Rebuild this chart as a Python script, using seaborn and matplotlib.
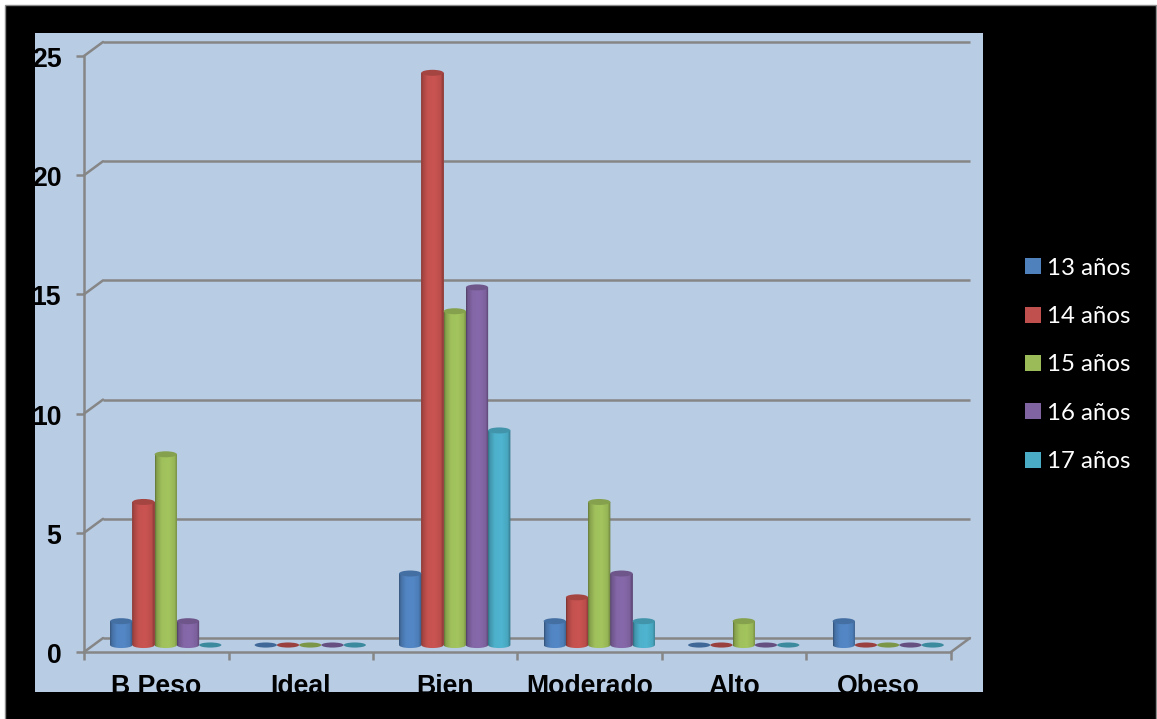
import numpy as np
import pandas as pd
import matplotlib
matplotlib.use("Agg")
import matplotlib.pyplot as plt
from matplotlib.patches import Ellipse, Patch, PathPatch, Rectangle
from matplotlib.path import Path
from matplotlib.colors import to_rgb
import seaborn as sns

categories = ["B Peso", "Ideal", "Bien", "Moderado", "Alto", "Obeso"]
age_groups = ["13 años", "14 años", "15 años", "16 años", "17 años"]
age_13 = [1, 0, 3, 1, 0, 1]
age_14 = [6, 0, 24, 2, 0, 0]
age_15 = [8, 0, 14, 6, 1, 0]
age_16 = [1, 0, 15, 3, 0, 0]
age_17 = [0, 0, 9, 1, 0, 0]
colors = ["#4F81BD", "#C0504D", "#9BBB59", "#8064A2", "#4BACC6"]
y_ticks = [0, 5, 10, 15, 20, 25]

PANEL = "#B8CCE4"
FRAME = "#868686"

sns.set_style("white")
plt.rcParams["font.family"] = ["Liberation Sans", "DejaVu Sans"]

records = []
for age, series in zip(age_groups, [age_13, age_14, age_15, age_16, age_17]):
    for cat, val in zip(categories, series):
        records.append({"categoria": cat, "edad": age, "valor": val})
df = pd.DataFrame(records)

fig = plt.figure(figsize=(11.57, 7.19), dpi=100, facecolor="white")
W, H = 1157, 719
fig.patches.append(Rectangle((5 / W, -0.01), 1151 / W, 714 / H + 0.01, transform=fig.transFigure,
                             facecolor="black", edgecolor="#8c8c8c", linewidth=1.0, zorder=-5))
ax = fig.add_axes([35 / W, (H - 692) / H, 948 / W, 659 / H])
ax.set_facecolor(PANEL)

sns.barplot(data=df, x="categoria", y="valor", hue="edad", order=categories,
            hue_order=age_groups, palette=colors, width=0.77, gap=0, dodge=True,
            linewidth=0, legend=False, errorbar=None, ax=ax, zorder=3)

# Axis scale: one category is 144.5 px, one value unit is 23.84 px
x_lim = (-0.905, 5.656)
y_lim = (-1.97, 25.67)
depth_x = 9.5 / 144.5   # half depth of the 3D floor
depth_y = 7 / 23.84
ellipse_h = 6 / 23.84

left, right = -0.5, 5.5

# Back wall gridlines with their slanted links and the left ticks
for v in y_ticks:
    ax.plot([left + depth_x, right + depth_x], [v + depth_y, v + depth_y],
            color=FRAME, lw=1.8, zorder=1, solid_capstyle="butt")
    ax.plot([left - depth_x, left + depth_x], [v - depth_y, v + depth_y],
            color=FRAME, lw=1.8, zorder=1)
    ax.plot([left - depth_x - 8 / 144.5, left - depth_x], [v - depth_y, v - depth_y],
            color=FRAME, lw=1.8, zorder=1, solid_capstyle="butt")
ax.plot([left - depth_x, left - depth_x], [-depth_y, 25 - depth_y], color=FRAME, lw=1.8, zorder=1)

# Floor front edge, right edge and the category ticks
ax.plot([left - depth_x, right - depth_x], [-depth_y, -depth_y], color=FRAME, lw=1.8, zorder=1)
ax.plot([right - depth_x, right + depth_x], [-depth_y, depth_y], color=FRAME, lw=1.8, zorder=1)
for b in np.arange(7) - 0.5:
    ax.plot([b - depth_x, b - depth_x], [-depth_y, -depth_y - 8 / 23.84],
            color=FRAME, lw=1.8, zorder=1, solid_capstyle="butt")

# Cylinder shading across each bar
profile_x = [0.0, 0.07, 0.3, 0.6, 0.86, 1.0]
profile_f = [0.62, 0.86, 1.03, 1.05, 0.97, 0.66]
t = np.linspace(0, 1, 64)
shade = np.interp(t, profile_x, profile_f)

for container, color in zip(ax.containers, colors):
    rgb = np.array(to_rgb(color))
    gradient = np.clip(shade[None, :, None] * rgb[None, None, :], 0, 1)
    for bar in container:
        x0, w, h = bar.get_x(), bar.get_width(), bar.get_height()
        cx = x0 + w / 2
        if h > 0:
            theta = np.linspace(np.pi, 2 * np.pi, 30)
            arc = np.column_stack([cx + w / 2 * np.cos(theta),
                                   ellipse_h / 2 * np.sin(theta)])
            verts = np.vstack([[x0, h], arc, [x0 + w, h], [x0, h]])
            codes = [Path.MOVETO] + [Path.LINETO] * (len(verts) - 2) + [Path.CLOSEPOLY]
            outline = PathPatch(Path(verts, codes), transform=ax.transData,
                                facecolor="none", edgecolor="none")
            ax.add_patch(outline)
            im = ax.imshow(gradient, extent=(x0, x0 + w, -ellipse_h, h), aspect="auto",
                           interpolation="bilinear", zorder=4)
            im.set_clip_path(outline)
            ax.add_patch(Ellipse((cx, h), w, ellipse_h, facecolor=rgb * 0.86,
                                 edgecolor="none", zorder=5))
        else:
            ax.add_patch(Ellipse((cx, 0), w, ellipse_h * 0.85, facecolor=rgb * 0.8,
                                 edgecolor="none", zorder=4))

ax.set_xlim(x_lim)
ax.set_ylim(y_lim)
ax.set_xlabel("")
ax.set_ylabel("")
for spine in ax.spines.values():
    spine.set_visible(False)

# Tick labels sit inside the panel and are cut off at its edges
ax.set_xticks(np.arange(len(categories)) - depth_x, categories)
ax.set_yticks(np.array(y_ticks) - depth_y - 1 / 23.84, [str(v) for v in y_ticks])
ax.tick_params(axis="x", length=0, pad=-12.6)
ax.tick_params(axis="y", length=0, pad=-19)
for lab in ax.get_xticklabels():
    lab.set(fontsize=19.2, fontweight="bold", color="black", va="top",
            clip_on=True, clip_box=ax.bbox)
for lab in ax.get_yticklabels():
    lab.set(fontsize=19.2, fontweight="bold", color="black", ha="right",
            clip_on=True, clip_box=ax.bbox)

handles = [Patch(facecolor=c, edgecolor="none") for c in colors]
leg = ax.legend(handles, age_groups, loc="center left",
                bbox_to_anchor=(1025 / W, 1 - 365 / H), bbox_transform=fig.transFigure,
                frameon=False, prop={"family": "Lato", "size": 17.3}, labelcolor="white",
                handlelength=0.65, handleheight=0.65, handletextpad=0.27, labelspacing=1.14,
                borderpad=0, borderaxespad=0)

fig.savefig("out.png", dpi=100, facecolor=fig.get_facecolor())
